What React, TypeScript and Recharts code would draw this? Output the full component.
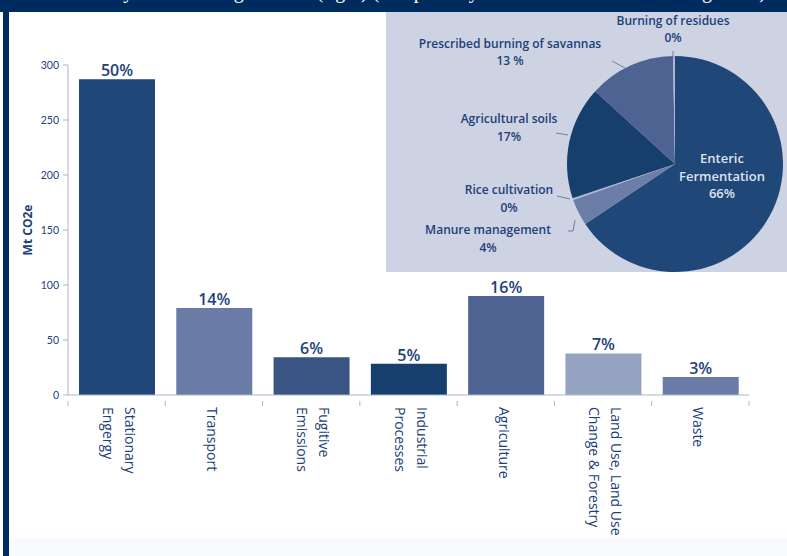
import React from 'react';
import { Bar, BarChart, Cell, LabelList, Pie, PieChart, XAxis, YAxis } from 'recharts';

const categories = [
    ['Stationary', 'Engergy'],
    ['Transport'],
    ['Fugitive', 'Emissions'],
    ['Industrial', 'Processes'],
    ['Agriculture'],
    ['Land Use, Land Use', 'Change & Forestry'],
    ['Waste'],
];
const emissions = [287, 79, 34.3, 28.3, 90, 37.8, 16.4];
const shares = ['50%', '14%', '6%', '5%', '16%', '7%', '3%'];
const yTicks = [0, 50, 100, 150, 200, 250, 300];

const pieNames = [
    ['Enteric', 'Fermentation', '66%'],
    ['Manure management', '4%'],
    ['Rice cultivation', '0%'],
    ['Agricultural soils', '17%'],
    ['Prescribed burning of savannas', '13 %'],
    ['Burning of residues', '0%'],
];
const pieValues = [66, 4, 0.3, 17, 13, 0.3];

const barColors = ['#1f4778', '#6a7ba6', '#3a5584', '#163f6e', '#4e6391', '#95a2c2', '#6a7ba6'];
const pieColors = ['#1f4778', '#6c7ea8', '#aeb8d0', '#173f6d', '#4e6391', '#aeb8d0'];

const NAVY = '#002b5e';
const TEXT = '#21407a';

// plot area
const PLOT_LEFT = 68;
const PLOT_RIGHT = 749;
const HALF_BAND = (PLOT_RIGHT - PLOT_LEFT) / categories.length / 2;

// pie inset
const INSET = { left: 386, top: 12, width: 401, height: 260 };
const PIE_CX = 289;
const PIE_CY = 152;

// label placement relative to the pie centre: first line centre, line gap, leader line
const pieLabelLayout = [
    { dx: 47, dy: -6, gap: 17.5, color: '#dde2ee', size: 13, leader: [] as number[][] },
    { dx: -187, dy: 65, gap: 18, color: TEXT, size: 12, leader: [[-107, 67], [-102, 67], [-100, 56]] },
    { dx: -166, dy: 25, gap: 18, color: TEXT, size: 12, leader: [[-118, 32], [-105, 35]] },
    { dx: -166, dy: -46, gap: 18, color: TEXT, size: 12, leader: [[-119, -31], [-107, -29]] },
    { dx: -165, dy: -121, gap: 17.5, color: TEXT, size: 12, leader: [[-63, -103], [-50, -96]] },
    { dx: -2, dy: -144, gap: 17, color: TEXT, size: 12, leader: [[-2, -113], [-2, -106]] },
];

const barData = categories.map((lines, i) => ({
    name: lines.join(' '),
    lines,
    value: emissions[i],
    share: shares[i],
}));

const pieData = pieNames.map((lines, i) => ({
    name: lines[0],
    lines,
    value: pieValues[i],
}));

function CategoryTick(props: any) {
    const { x, y, payload, index } = props;
    const lines: string[] = categories[index] ?? [payload.value];
    const offsets = lines.length === 1 ? [7] : [-8, 14];
    const last = index === categories.length - 1;
    return (
        <g>
            <line x1={x - HALF_BAND} y1={y - 6} x2={x - HALF_BAND} y2={y - 1} stroke="#a9b5cd" />
            {last && <line x1={x + HALF_BAND} y1={y - 6} x2={x + HALF_BAND} y2={y - 1} stroke="#a9b5cd" />}
            <g transform={`translate(${x},${y}) rotate(90)`}>
                {lines.map((line, i) => (
                    <text
                        key={line}
                        x={0}
                        y={offsets[i]}
                        textAnchor="start"
                        fontFamily="'Open Sans', sans-serif"
                        fontSize={14}
                        fill={TEXT}
                    >
                        {line}
                    </text>
                ))}
            </g>
        </g>
    );
}

function ShareLabel(props: any) {
    const { x, y, width, value } = props;
    return (
        <text
            x={x + width / 2}
            y={y - 3}
            textAnchor="middle"
            fontFamily="'Open Sans', sans-serif"
            fontSize={16}
            fontWeight={600}
            fill={TEXT}
        >
            {value}
        </text>
    );
}

function renderPieLabel(props: any) {
    const { index } = props;
    const layout = pieLabelLayout[index];
    const lines = pieNames[index];
    const tx = PIE_CX + layout.dx;
    const ty = PIE_CY + layout.dy;
    const points = layout.leader.map(([px, py]) => `${PIE_CX + px},${PIE_CY + py}`).join(' ');
    return (
        <g key={`pie-label-${index}`}>
            {points && <polyline points={points} fill="none" stroke="#6f7fa6" strokeWidth={1} />}
            {lines.map((line, i) => (
                <text
                    key={line}
                    x={tx}
                    y={ty + i * layout.gap}
                    textAnchor="middle"
                    dominantBaseline="central"
                    fontFamily="'Open Sans', sans-serif"
                    fontSize={layout.size}
                    fontWeight={600}
                    fill={layout.color}
                >
                    {line}
                </text>
            ))}
        </g>
    );
}

export default function App() {
    return (
        <div style={{ position: 'fixed', left: 0, top: 0, width: 787, height: 556, background: '#ffffff', overflow: 'hidden' }}>
            <div style={{ position: 'absolute', left: 0, top: 0, width: 787, height: 12, background: NAVY, overflow: 'hidden' }}>
                <div
                    style={{
                        position: 'absolute',
                        left: 26,
                        top: -19,
                        whiteSpace: 'nowrap',
                        fontFamily: "'Liberation Serif', serif",
                        fontSize: 20,
                        lineHeight: '20px',
                        color: '#ffffff',
                    }}
                >
                    Emissions by sector and agriculture (right) (compiled by authors from Climate Change data)
                </div>
            </div>
            <div style={{ position: 'absolute', left: 3, top: 0, width: 6, height: 556, background: NAVY }} />
            <div style={{ position: 'absolute', left: 9, top: 537, width: 778, height: 19, background: '#f8fafd' }} />

            <div style={{ position: 'absolute', left: 0, top: 0 }}>
                <BarChart
                    width={787}
                    height={556}
                    data={barData}
                    margin={{ top: 65, right: 787 - PLOT_RIGHT, bottom: 0, left: 0 }}
                >
                    <XAxis
                        dataKey="name"
                        interval={0}
                        height={161}
                        tickLine={false}
                        tick={<CategoryTick />}
                        axisLine={{ stroke: '#a9b5cd' }}
                        tickMargin={6}
                    />
                    <YAxis
                        width={PLOT_LEFT}
                        domain={[0, 300]}
                        ticks={yTicks}
                        interval={0}
                        tickSize={5}
                        tickMargin={4}
                        tickLine={{ stroke: '#a9b5cd' }}
                        axisLine={{ stroke: '#a9b5cd' }}
                        tick={{ fill: TEXT, fontSize: 10.5, fontFamily: 'Lato, sans-serif' }}
                        label={{
                            value: 'Mt CO2e',
                            angle: -90,
                            position: 'insideLeft',
                            offset: 28,
                            style: { fill: TEXT, fontSize: 12, fontWeight: 700, fontFamily: "'Open Sans', sans-serif", textAnchor: 'middle' },
                        }}
                    />
                    <Bar dataKey="value" barSize={76} isAnimationActive={false}>
                        {barData.map((d, i) => (
                            <Cell key={d.name} fill={barColors[i]} />
                        ))}
                        <LabelList dataKey="share" content={<ShareLabel />} />
                    </Bar>
                </BarChart>
            </div>

            <div
                style={{
                    position: 'absolute',
                    left: INSET.left,
                    top: INSET.top,
                    width: INSET.width,
                    height: INSET.height,
                    background: '#cdd3e3',
                }}
            >
                <PieChart width={INSET.width} height={INSET.height} margin={{ top: 0, right: 0, bottom: 0, left: 0 }}>
                    <Pie
                        data={pieData}
                        dataKey="value"
                        cx={PIE_CX}
                        cy={PIE_CY}
                        outerRadius={108}
                        startAngle={90}
                        endAngle={-270}
                        stroke="none"
                        label={renderPieLabel}
                        labelLine={false}
                        isAnimationActive={false}
                    >
                        {pieData.map((d, i) => (
                            <Cell key={d.name} fill={pieColors[i]} />
                        ))}
                    </Pie>
                </PieChart>
            </div>
        </div>
    );
}
